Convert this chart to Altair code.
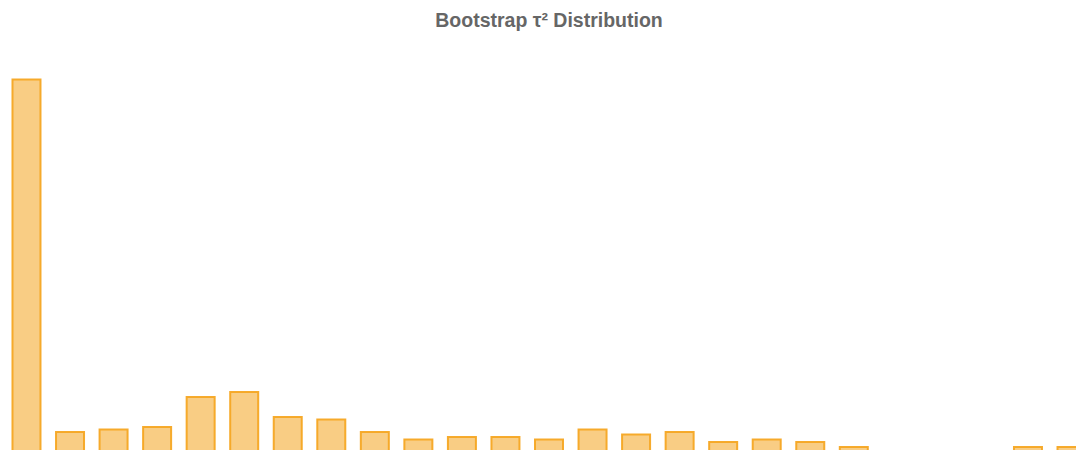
import altair as alt
import pandas as pd

bins = [f"B{i:02d}" for i in range(1, 26)]
counts = [148, 7, 8, 9, 21, 23, 13, 12, 7, 4, 5, 5, 4, 8, 6, 7, 3, 4, 3, 1, 0, 0, 0, 1, 1]

df = pd.DataFrame({"bin": bins, "count": counts})

chart = alt.Chart(df).transform_filter(
    alt.datum["count"] > 0
).mark_bar(
    fill="#F5A623", fillOpacity=0.56, stroke="#F5A623", strokeWidth=2, strokeOpacity=0.95
).encode(
    x=alt.X("bin:N", sort=bins, axis=None,
            scale=alt.Scale(domain=bins, range=[0, 1082], paddingInner=0.357, paddingOuter=0.103)),
    y=alt.Y("count:Q", axis=None, scale=alt.Scale(domain=[0, 150], nice=False)),
    y2=alt.datum(-2),
).properties(
    width=1068, height=375,
    autosize=alt.AutoSizeParams(type="none"),
    padding={"left": 0, "top": 66.5, "right": 0, "bottom": 12},
    title=alt.TitleParams("Bootstrap τ² Distribution", font="Liberation Sans", fontSize=19.5,
                          fontWeight="bold", color="#666666", anchor="middle", offset=43, dx=7),
).configure_view(stroke=None)

chart.save("out.html", embed_options={"renderer": "svg", "actions": False})
